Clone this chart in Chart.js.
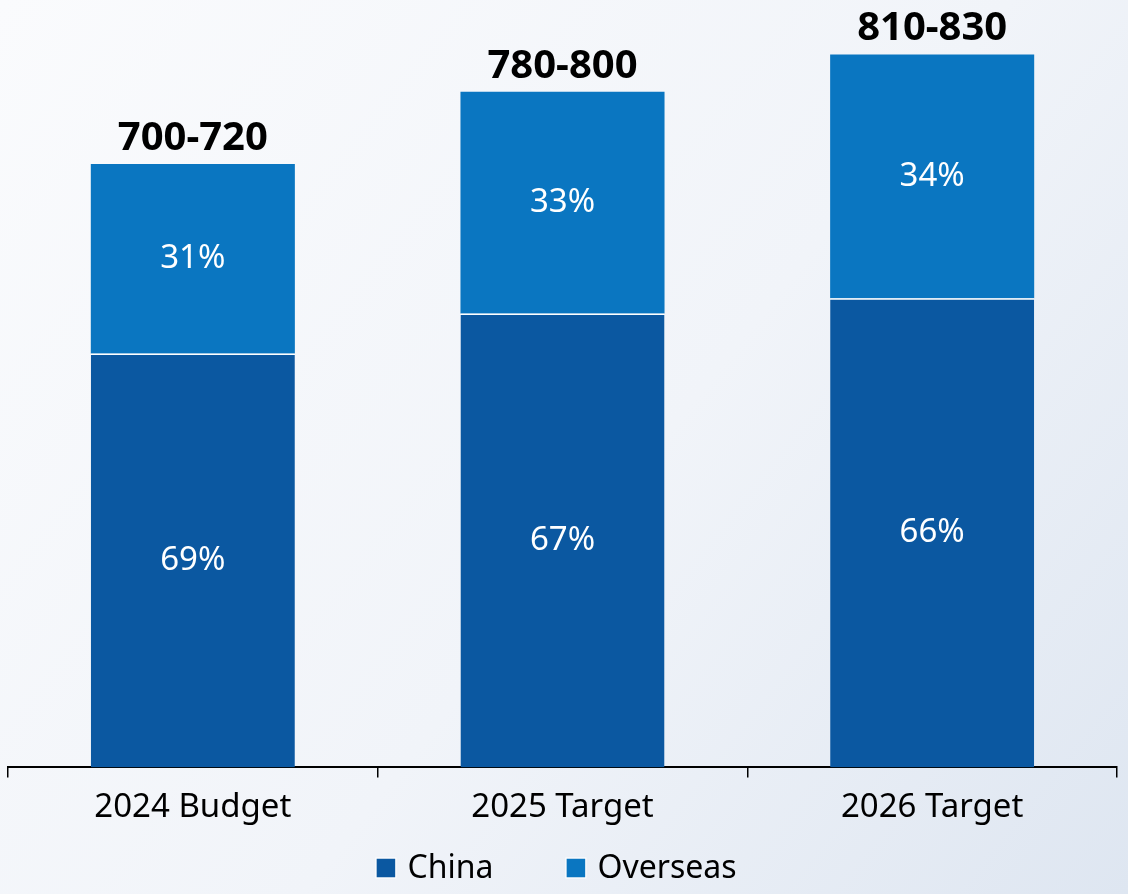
<!DOCTYPE html>
<html>
<head>
<meta charset="utf-8">
<script src="https://cdn.jsdelivr.net/npm/chart.js@4.4.1/dist/chart.umd.min.js"></script>
<style>
    html, body { margin: 0; padding: 0; background: #ffffff; }
    #wrap { width: 1128px; height: 894px; }
</style>
</head>
<body>
<div id="wrap"><canvas id="myChart" width="1128" height="894"></canvas></div>
<script>
const categories = ['2024 Budget', '2025 Target', '2026 Target'];
const chinaValues = [487, 534, 552];
const overseasValues = [223, 261, 287];
const chinaShare = ['69%', '67%', '66%'];
const overseasShare = ['31%', '33%', '34%'];
const rangeLabels = ['700-720', '780-800', '810-830'];

const chinaColor = '#0b58a1';
const overseasColor = '#0a76c1';
const fontFamily = "'Noto Sans', 'Open Sans', sans-serif";

// background: soft diagonal gradient, white to pale blue
const backgroundPlugin = {
    id: 'bg',
    beforeDraw(chart) {
        const ctx = chart.ctx;
        const g = ctx.createLinearGradient(0, 0, chart.width, chart.height);
        g.addColorStop(0, '#fafbfd');
        g.addColorStop(0.55, '#f1f4f9');
        g.addColorStop(1, '#dee6f1');
        ctx.save();
        ctx.fillStyle = g;
        ctx.fillRect(0, 0, chart.width, chart.height);
        ctx.restore();
    }
};

// percentages inside the segments and the range above each bar
const labelsPlugin = {
    id: 'barLabels',
    afterDatasetsDraw(chart) {
        const ctx = chart.ctx;
        const shares = [chinaShare, overseasShare];
        ctx.save();
        ctx.textAlign = 'center';
        ctx.textBaseline = 'middle';
        ctx.fillStyle = '#ffffff';
        ctx.font = '33px ' + fontFamily;
        chart.data.datasets.forEach((ds, d) => {
            const meta = chart.getDatasetMeta(d);
            meta.data.forEach((bar, i) => {
                ctx.fillText(shares[d][i], bar.x, (bar.y + bar.base) / 2);
            });
        });

        const top = chart.getDatasetMeta(1);
        ctx.fillStyle = '#000000';
        ctx.font = 'bold 40px ' + fontFamily;
        ctx.textBaseline = 'alphabetic';
        top.data.forEach((bar, i) => {
            ctx.fillText(rangeLabels[i], bar.x, bar.y - 14);
        });
        ctx.restore();
    }
};

// legend drawn below the axis labels
const legendPlugin = {
    id: 'bottomLegend',
    afterDraw(chart) {
        const ctx = chart.ctx;
        const box = 19;
        const gap = 12;
        const itemGap = 73;
        const y = 868;
        ctx.save();
        ctx.font = '32px ' + fontFamily;
        const items = chart.data.datasets.map((ds) => ({
            text: ds.label,
            color: ds.backgroundColor,
            width: box + gap + ctx.measureText(ds.label).width
        }));
        const total = items.reduce((s, it) => s + it.width, 0) + itemGap * (items.length - 1);
        let x = (chart.chartArea.left + chart.chartArea.right) / 2 - 6 - total / 2;
        items.forEach((it) => {
            ctx.fillStyle = it.color;
            ctx.fillRect(x, y - box / 2, box, box);
            ctx.strokeStyle = '#ffffff';
            ctx.lineWidth = 1;
            ctx.strokeRect(x - 0.5, y - box / 2 - 0.5, box + 1, box + 1);
            ctx.fillStyle = '#000000';
            ctx.textAlign = 'left';
            ctx.textBaseline = 'middle';
            ctx.fillText(it.text, x + box + gap, y + 1);
            x += it.width + itemGap;
        });
        ctx.restore();
    }
};

const ctx = document.getElementById('myChart').getContext('2d');
const myChart = new Chart(ctx, {
    type: 'bar',
    data: {
        labels: categories,
        datasets: [{
            label: 'China',
            data: chinaValues,
            backgroundColor: chinaColor,
            borderColor: '#ffffff',
            borderWidth: { top: 1.5, left: 0, right: 0, bottom: 0 }
        }, {
            label: 'Overseas',
            data: overseasValues,
            backgroundColor: overseasColor,
            borderWidth: 0
        }]
    },
    options: {
        responsive: false,
        animation: false,
        layout: {
            padding: { left: 8, right: 11, top: 0, bottom: 57 }
        },
        categoryPercentage: 1,
        barPercentage: 0.552,
        plugins: {
            legend: { display: false },
            tooltip: { enabled: false }
        },
        scales: {
            x: {
                stacked: true,
                grid: {
                    display: true,
                    drawOnChartArea: false,
                    drawTicks: true,
                    tickLength: 10,
                    color: '#000000',
                    lineWidth: 1.5
                },
                border: { display: true, color: '#000000', width: 2 },
                ticks: {
                    color: '#000000',
                    padding: 10,
                    font: { family: fontFamily, size: 33 }
                }
            },
            y: {
                stacked: true,
                display: false,
                min: 0,
                max: 903
            }
        }
    },
    plugins: [backgroundPlugin, labelsPlugin, legendPlugin]
});
</script>
</body>
</html>
